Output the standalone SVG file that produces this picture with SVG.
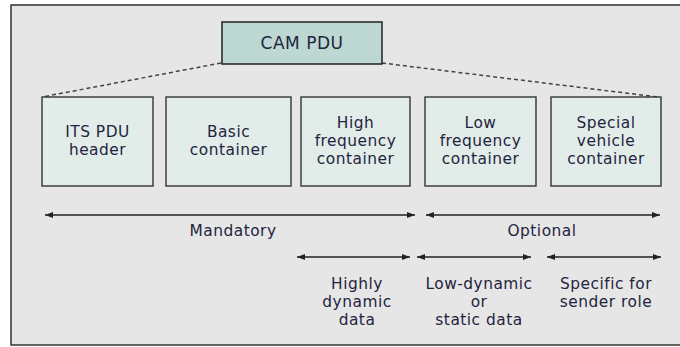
<svg xmlns="http://www.w3.org/2000/svg" width="680" height="347" viewBox="0 0 680 347">
<defs>
<marker id="ah" viewBox="0 0 8 6" refX="8" refY="3" markerWidth="8" markerHeight="6" markerUnits="userSpaceOnUse" orient="auto-start-reverse">
<path d="M0,0 L8,3 L0,6 z" fill="#222"/>
</marker>
<style>
text{font-family:"DejaVu Sans",sans-serif;font-size:15.4px;letter-spacing:0.5px;fill:#1f2440;text-anchor:middle}
.big{font-size:17px}
.box{fill:#e2ece9;stroke:#333;stroke-width:1.4}
.top{fill:#bdd8d2;stroke:#222;stroke-width:1.5}
.dash{stroke:#444;stroke-width:1.5;stroke-dasharray:4 3;fill:none}
.arr{stroke:#222;stroke-width:1.3;fill:none;marker-start:url(#ah);marker-end:url(#ah)}
</style>
</defs>
<rect x="0" y="0" width="680" height="347" fill="#ffffff"/>
<rect x="11" y="5" width="700" height="340" fill="#e6e6e6" stroke="#333" stroke-width="1.5"/>
<g id="connectors">
<line class="dash" x1="221" y1="63" x2="42" y2="97"/>
<line class="dash" x1="382" y1="63" x2="658" y2="97"/>
<line class="arr" x1="45" y1="215" x2="415" y2="215"/>
<line class="arr" x1="426" y1="215" x2="660" y2="215"/>
<line class="arr" x1="297" y1="257" x2="410" y2="257"/>
<line class="arr" x1="417" y1="257" x2="531" y2="257"/>
<line class="arr" x1="547" y1="257" x2="661" y2="257"/>
</g>
<g id="cam-pdu">
<rect class="top" x="222" y="22" width="160" height="42"/>
<text class="big" x="302" y="49">CAM PDU</text>
</g>
<g id="its-pdu-header">
<rect class="box" x="42" y="97" width="111" height="89"/>
<text x="97.5" y="137">ITS PDU<tspan x="97.5" dy="18">header</tspan></text>
</g>
<g id="basic-container">
<rect class="box" x="166" y="97" width="125" height="89"/>
<text x="228.5" y="137">Basic<tspan x="228.5" dy="18">container</tspan></text>
</g>
<g id="high-frequency-container">
<rect class="box" x="301" y="97" width="109" height="89"/>
<text x="355.5" y="128">High<tspan x="355.5" dy="18">frequency</tspan><tspan x="355.5" dy="18">container</tspan></text>
</g>
<g id="low-frequency-container">
<rect class="box" x="425" y="97" width="111" height="89"/>
<text x="480.5" y="128">Low<tspan x="480.5" dy="18">frequency</tspan><tspan x="480.5" dy="18">container</tspan></text>
</g>
<g id="special-vehicle-container">
<rect class="box" x="551" y="97" width="110" height="89"/>
<text x="606" y="128">Special<tspan x="606" dy="18">vehicle</tspan><tspan x="606" dy="18">container</tspan></text>
</g>
<g id="labels">
<text x="233" y="236">Mandatory</text>
<text x="542" y="236">Optional</text>
<text x="357" y="289">Highly<tspan x="357" dy="18">dynamic</tspan><tspan x="357" dy="18">data</tspan></text>
<text x="479" y="289">Low-dynamic<tspan x="479" dy="18">or</tspan><tspan x="479" dy="18">static data</tspan></text>
<text x="606" y="289">Specific for<tspan x="606" dy="18">sender role</tspan></text>
</g>
</svg>
